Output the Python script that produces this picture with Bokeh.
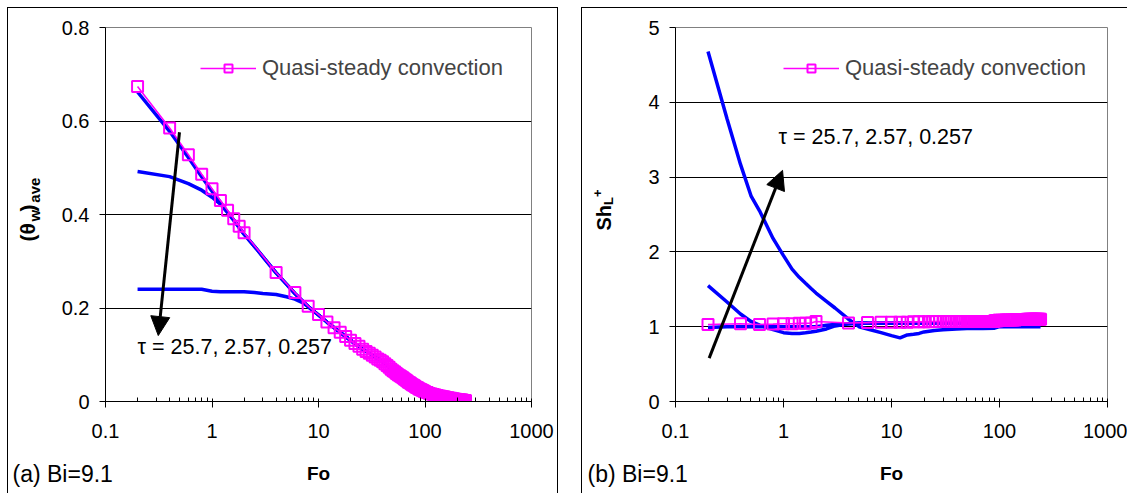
import math
from bokeh.plotting import figure
from bokeh.models import (FixedTicker, CustomJSTickFormatter, Label, Legend, LegendItem,
                          Arrow, NormalHead, Range1d, Row)
from bokeh.embed import file_html
from bokeh.resources import INLINE

FONT = "Liberation Sans"
BLUE = "#0000FF"
MAGENTA = "#FF00FF"
NBSP = "\u00a0"
THIN = "\u2009"

# ---------------- data ----------------
X_TICKS = [0.1, 1, 10, 100, 1000]
X_MINOR = [0.2, 0.3, 0.4, 0.5, 0.6, 0.7, 0.8, 0.9,
           2, 3, 4, 5, 6, 7, 8, 9,
           20, 30, 40, 50, 60, 70, 80, 90,
           200, 300, 400, 500, 600, 700, 800, 900]
Y_TICKS_A = [0, 0.2, 0.4, 0.6, 0.8]
Y_TICKS_B = [0, 1, 2, 3, 4, 5]

# Quasi-steady convection (markers)
QS_FO = [0.2, 0.4, 0.6, 0.8, 1.0, 1.2, 1.4, 1.6, 1.8, 2.0,
         4, 6, 8, 10, 12, 14, 16, 18, 20, 22, 24, 26, 28, 30, 32, 34, 36, 38, 40,
         42, 44, 46, 48, 50, 52, 54, 56, 58, 60,
         62, 64, 66, 68, 70, 72, 74, 76, 78, 80,
         82, 84, 86, 88, 90, 92, 94, 96, 98, 100,
         105, 110, 115, 120, 125, 130, 135, 140,
         145, 150, 155, 160, 165, 170, 175, 180, 185, 190, 195, 200, 205, 210,
         215, 220, 225, 230, 235, 240]
QS_THETA = [0.674, 0.585, 0.528, 0.486, 0.455, 0.430, 0.409, 0.391, 0.375, 0.361,
            0.276, 0.233, 0.204, 0.186, 0.170, 0.158, 0.148, 0.139, 0.131, 0.124, 0.118,
            0.112, 0.107, 0.103, 0.099, 0.095, 0.091, 0.088, 0.085,
            0.081, 0.077, 0.073, 0.069, 0.066, 0.063, 0.060, 0.057, 0.055, 0.053,
            0.051, 0.048, 0.046, 0.044, 0.041, 0.040, 0.038, 0.036, 0.035, 0.033,
            0.031, 0.030, 0.029, 0.027, 0.026, 0.025, 0.024, 0.023, 0.022, 0.021,
            0.019, 0.017, 0.016, 0.015, 0.014, 0.013, 0.012, 0.011,
            0.010, 0.010, 0.009, 0.008, 0.008, 0.007, 0.007, 0.006, 0.006, 0.005,
            0.005, 0.004, 0.004, 0.004,
            0.003, 0.003, 0.003, 0.002, 0.002, 0.002]
QS_SH = [1.03, 1.04, 1.03, 1.035, 1.04, 1.04, 1.045, 1.045, 1.05, 1.07,
         1.05, 1.055, 1.06, 1.06, 1.06, 1.06, 1.065, 1.065, 1.065, 1.065, 1.07,
         1.07, 1.07, 1.07, 1.07, 1.07, 1.07, 1.07, 1.07,
         1.07, 1.07, 1.07, 1.07, 1.07, 1.07, 1.07, 1.07, 1.07, 1.07,
         1.07, 1.07, 1.07, 1.07, 1.07, 1.07, 1.07, 1.07, 1.07, 1.07,
         1.07, 1.07, 1.07, 1.07, 1.08, 1.08, 1.08, 1.08, 1.085, 1.085,
         1.085, 1.085, 1.09, 1.09, 1.09, 1.09, 1.09, 1.09,
         1.095, 1.095, 1.095, 1.095, 1.095, 1.095, 1.095, 1.10, 1.10, 1.10,
         1.10, 1.10, 1.10, 1.10,
         1.10, 1.10, 1.10, 1.10, 1.10, 1.10]

# transient curves, panel (a): tau = 0.257, 2.57, 25.7
A_FO = [0.2, 0.4, 0.6, 0.8, 1.0, 1.2, 1.4, 1.6, 1.8, 2.0, 2.5, 3, 4, 5, 6, 7, 8,
        10, 12, 14, 16, 18, 20, 25, 30, 40, 50, 60, 80, 100, 150, 200, 240]
A_TAU0257 = [0.662, 0.578, 0.522, 0.481, 0.450, 0.426, 0.405, 0.388, 0.372, 0.358,
             0.332, 0.310, 0.275, 0.251, 0.231, 0.216, 0.203,
             0.185, 0.170, 0.158, 0.148, 0.139, 0.131, 0.114, 0.103, 0.085, 0.066,
             0.053, 0.033, 0.021, 0.010, 0.004, 0.002]
A_TAU257 = [0.492, 0.481, 0.466, 0.452, 0.437, 0.422, 0.404, 0.388, 0.372, 0.358,
            0.332, 0.310, 0.275, 0.251, 0.231, 0.216, 0.203,
            0.185, 0.170, 0.158, 0.148, 0.139, 0.131, 0.114, 0.103, 0.085, 0.066,
            0.053, 0.033, 0.021, 0.010, 0.004, 0.002]
A_TAU257X = [0.240, 0.240, 0.240, 0.240, 0.236, 0.235, 0.235, 0.235, 0.235, 0.235,
             0.233, 0.231, 0.229, 0.224, 0.219, 0.212, 0.203,
             0.185, 0.170, 0.158, 0.148, 0.139, 0.131, 0.114, 0.103, 0.085, 0.066,
             0.053, 0.033, 0.021, 0.010, 0.004, 0.002]

# transient curves, panel (b)
B_FO = [0.2, 0.3, 0.4, 0.5, 0.6, 0.8, 1.0, 1.2, 1.4, 1.6, 1.8, 2.0, 2.5, 3, 4, 5, 6,
        8, 10, 12, 14, 16, 18, 20, 25, 30, 40, 50, 70, 90, 100, 150, 200, 240]
B_TAU0257 = [4.68, 3.78, 3.17, 2.75, 2.55, 2.18, 1.95, 1.77, 1.66, 1.58, 1.51, 1.45,
             1.34, 1.25, 1.10, 1.00, 0.97,
             0.92, 0.88, 0.85, 0.89, 0.90, 0.91, 0.93, 0.95, 0.96, 0.97, 0.975, 0.975,
             0.98, 1.00, 1.00, 1.00, 1.00]
B_TAU257 = [1.55, 1.33, 1.17, 1.07, 1.02, 0.96, 0.92, 0.91, 0.91, 0.92, 0.93, 0.94,
            0.97, 1.01, 1.04, 1.05, 1.05,
            1.05, 1.05, 1.05, 1.05, 1.05, 1.05, 1.05, 1.05, 1.05, 1.05, 1.05, 1.05,
            1.05, 1.05, 1.05, 1.05, 1.05]
B_TAU257X = [0.99, 1.00, 1.00, 1.00, 1.00, 1.00, 1.00, 1.00, 1.00, 1.00, 1.00, 1.00,
             1.02, 1.03, 1.04, 1.045, 1.045,
             1.045, 1.045, 1.045, 1.045, 1.045, 1.045, 1.045, 1.045, 1.045, 1.045,
             1.045, 1.045, 1.045, 1.05, 1.05, 1.05, 1.05]

LEGEND_TEXT = "Quasi-steady convection"
TAU_TEXT = "τ = 25.7, 2.57, 0.257"

# annotation anchors (data units)
ARROW_A = dict(x_start=0.495, y_start=0.576, x_end=0.313, y_end=0.141)
ARROW_B = dict(x_start=0.205, y_start=0.58, x_end=0.98, y_end=3.09)
TAU_POS_A = (0.2, 0.09)
TAU_POS_B = (0.9, 3.37)


def make_fig(width, left, right, yr, yticks, yfmt):
    p = figure(width=width, height=486, x_axis_type="log",
               x_range=Range1d(0.1, 1000), y_range=Range1d(*yr),
               output_backend="svg", toolbar_location=None,
               min_border_left=left, min_border_right=right,
               min_border_top=19, min_border_bottom=93,
               background_fill_color="white", border_fill_color="white")
    p.outline_line_color = "#808080"
    p.outline_line_width = 1
    p.xgrid.visible = False
    p.ygrid.grid_line_color = "black"
    p.ygrid.grid_line_width = 1
    p.ygrid.ticker = FixedTicker(ticks=yticks)

    xa = p.xaxis[0]
    xa.ticker = FixedTicker(ticks=X_TICKS, minor_ticks=X_MINOR)
    xa.formatter = CustomJSTickFormatter(code="return tick < 1 ? tick.toFixed(1) : tick.toFixed(0);")
    xa.major_tick_in = 3
    xa.major_tick_out = 6
    xa.minor_tick_in = 4
    xa.minor_tick_out = 0
    xa.major_label_standoff = 16

    ya = p.yaxis[0]
    ya.ticker = FixedTicker(ticks=yticks)
    ya.formatter = CustomJSTickFormatter(code=yfmt)
    ya.major_tick_in = 0
    ya.major_tick_out = 6
    ya.minor_tick_in = 0
    ya.minor_tick_out = 0
    ya.major_label_standoff = 10

    for ax in (xa, ya):
        ax.axis_line_color = "black"
        ax.major_tick_line_color = "black"
        ax.minor_tick_line_color = "black"
        ax.major_label_text_font = FONT
        ax.major_label_text_font_size = "20px"
        ax.major_label_text_color = "black"
    return p


def add_common(p, fo_qs, qs, curves_x, curves, arrow, tau_pos, leg_x):
    for c in curves:
        p.line(curves_x, c, line_color=BLUE, line_width=3.5)
    lr = p.line(fo_qs, qs, line_color=MAGENTA, line_width=1.6)
    sr = p.scatter(fo_qs, qs, marker="square", size=11, line_color=MAGENTA,
                   fill_color=None, line_width=2)
    leg = Legend(items=[LegendItem(label=LEGEND_TEXT, renderers=[lr, sr])],
                 location=(leg_x, 320), padding=0, margin=0, spacing=0,
                 glyph_width=56, glyph_height=20, label_height=20, label_standoff=6,
                 label_text_font=FONT, label_text_font_size="22px",
                 border_line_color=None, background_fill_alpha=0)
    p.add_layout(leg)
    p.add_layout(Arrow(end=NormalHead(size=19, fill_color="black", line_color="black"),
                       line_color="black", line_width=3, **arrow))
    p.add_layout(Label(x=tau_pos[0], y=tau_pos[1], text=TAU_TEXT, text_font=FONT,
                       text_font_size="21.5px", text_color="black"))


R = math.pi / 2


def side_label(p, side, anchor, text, dx, dy, size, bold=False, angle=0.0,
               align="left", baseline="alphabetic"):
    """Text placed in a side panel (not clipped to the plot frame), anchored at a
    data point and shifted by pixel offsets."""
    p.add_layout(Label(x=anchor[0], y=anchor[1], x_offset=dx, y_offset=dy, text=text,
                       angle=angle, text_align=align, text_baseline=baseline,
                       text_font=FONT, text_font_style="bold" if bold else "normal",
                       text_font_size=size, text_color="black"), side)


# panel (a)
p1 = make_fig(549, 97, 26, (0, 0.8), Y_TICKS_A,
              "return tick == 0 ? '0' : tick.toFixed(1);")
add_common(p1, QS_FO, QS_THETA, A_FO, [A_TAU0257, A_TAU257, A_TAU257X], ARROW_A,
           TAU_POS_A, 95)
ANCHOR_A = (0.1, 0.0)
side_label(p1, "below", ANCHOR_A, "(a) Bi=9.1", -93, -72, "23px", baseline="middle")
side_label(p1, "below", ANCHOR_A, "Fo", 213, -72, "19px", True, align="center",
           baseline="middle")
side_label(p1, "left", ANCHOR_A, "(θ" + NBSP + NBSP + ")", -78, 160, "21px", True, R)
side_label(p1, "left", ANCHOR_A, "w" + NBSP + THIN + "ave", -71, 180, "15px", True, R)

# panel (b)
p2 = make_fig(545, 93, 20, (0, 5), Y_TICKS_B, "return tick.toFixed(0);")
add_common(p2, QS_FO, QS_SH, B_FO, [B_TAU0257, B_TAU257, B_TAU257X], ARROW_B,
           TAU_POS_B, 108)
ANCHOR_B = (0.1, 0.0)
side_label(p2, "below", ANCHOR_B, "(b) Bi=9.1", -88, -72, "23px", baseline="middle")
side_label(p2, "below", ANCHOR_B, "Fo", 216, -72, "19px", True, align="center",
           baseline="middle")
side_label(p2, "left", ANCHOR_B, "Sh", -72, 171, "20px", True, R)
side_label(p2, "left", ANCHOR_B, "L", -67, 196.5, "13px", True, R)
side_label(p2, "left", ANCHOR_B, "+", -78, 204.5, "13px", True, R)

for p in (p1, p2):
    p.styles = {"box-shadow": "-1px -1px 0 0 #000, 1px -1px 0 0 #000"}

layout = Row(children=[p1, p2], spacing=25, margin=(8, 0, 0, 8))
open("out.html", "w").write(file_html(layout, INLINE))
